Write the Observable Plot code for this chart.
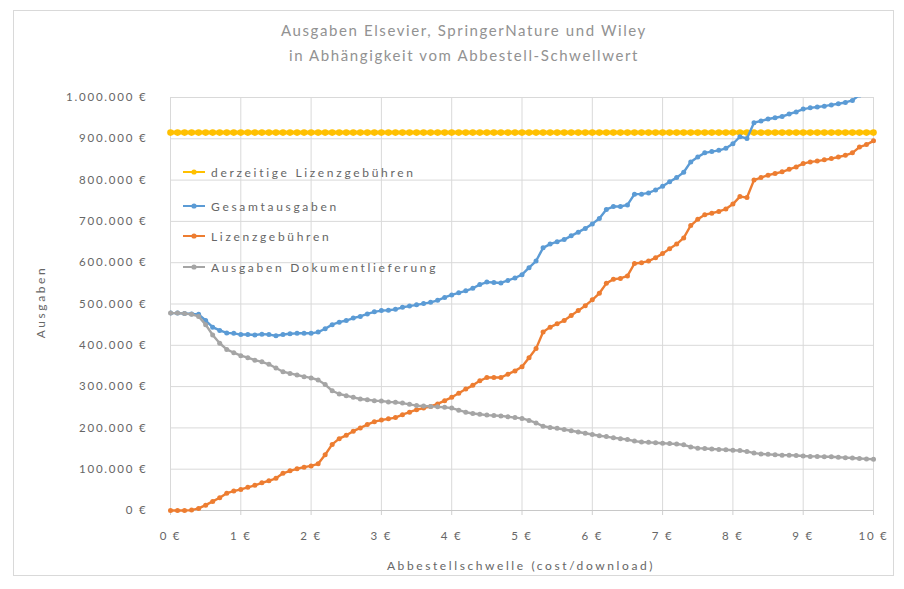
<!DOCTYPE html>
<html><head><meta charset="utf-8">
<script src="https://cdn.jsdelivr.net/npm/d3@7"></script>
<script src="https://cdn.jsdelivr.net/npm/@observablehq/plot@0.6"></script>
<style>
body{margin:0;background:#fff;}
#wrap{position:relative;width:904px;height:589px;font-family:Lato,sans-serif;overflow:hidden;}
#frame{position:absolute;left:13px;top:10px;width:881px;height:566px;border:1px solid #d9d9d9;box-sizing:border-box;}
.title{position:absolute;left:0;width:928px;text-align:center;color:#929292;font-size:15px;letter-spacing:1.6px;line-height:20px;}
.leg{position:absolute;left:182px;height:20px;display:flex;align-items:center;font-size:12px;color:#666;letter-spacing:2.7px;}
.leg svg{margin-right:5px;}
.axt{position:absolute;color:#666;font-size:12px;letter-spacing:2.6px;white-space:nowrap;}
#chart{position:absolute;left:0;top:0;}
</style></head>
<body>
<div id="wrap">
  <div id="frame"></div>
  <div id="chart"></div>
</div>
<script>
// Abbestellschwelle (€ cost/download)
const thresholds = [0,0.1,0.2,0.3,0.4,0.5,0.6,0.7,0.8,0.9,
  1,1.1,1.2,1.3,1.4,1.5,1.6,1.7,1.8,1.9,
  2,2.1,2.2,2.3,2.4,2.5,2.6,2.7,2.8,2.9,
  3,3.1,3.2,3.3,3.4,3.5,3.6,3.7,3.8,3.9,
  4,4.1,4.2,4.3,4.4,4.5,4.6,4.7,4.8,4.9,
  5,5.1,5.2,5.3,5.4,5.5,5.6,5.7,5.8,5.9,
  6,6.1,6.2,6.3,6.4,6.5,6.6,6.7,6.8,6.9,
  7,7.1,7.2,7.3,7.4,7.5,7.6,7.7,7.8,7.9,
  8,8.1,8.2,8.3,8.4,8.5,8.6,8.7,8.8,8.9,
  9,9.1,9.2,9.3,9.4,9.5,9.6,9.7,9.8,9.9,10];

// values in thousand €
const currentFees = 915;
const totalSpend = [478,478,477,476,475,460,444,436,430,429,
  426,426,425,427,426,423,426,428,429,429,
  429,432,440,450,456,460,466,470,476,481,
  484,485,487,492,495,498,501,504,509,516,
  522,527,532,538,547,553,552,551,557,563,
  571,588,604,636,645,651,656,665,674,683,
  694,707,729,736,736,740,766,766,769,776,
  785,796,806,819,844,856,866,869,872,877,
  888,905,901,939,943,948,951,954,960,965,
  972,975,977,979,982,985,988,993,1006,1011,1019];
const licenseFees = [0,0,0,1,5,13,22,31,42,47,
  51,56,61,67,72,78,90,96,101,105,
  108,113,135,160,174,182,192,200,208,215,
  219,222,225,232,238,244,248,252,258,266,
  274,284,294,303,314,322,322,322,330,338,
  348,370,392,432,444,452,460,472,484,496,
  510,526,550,560,562,568,598,600,604,612,
  622,634,645,660,690,705,716,720,724,730,
  742,760,758,800,806,812,816,820,826,832,
  840,844,846,849,852,856,860,866,880,886,895];
const docDelivery = [478,478,477,475,470,450,425,405,390,382,
  375,370,364,360,354,345,336,332,328,324,
  321,316,305,290,282,278,274,270,268,266,
  265,263,262,260,257,254,253,252,251,250,
  248,243,238,235,233,231,230,229,227,225,
  223,218,212,204,201,199,196,193,190,187,
  184,181,179,176,174,172,168,166,165,164,
  163,162,161,159,154,151,150,149,148,147,
  146,145,143,139,137,136,135,134,134,133,
  132,131,131,130,130,129,128,127,126,125,124];

const seriesNames = ["derzeitige Lizenzgebühren","Gesamtausgaben","Lizenzgebühren","Ausgaben Dokumentlieferung"];
const seriesColors = ["#FFC000","#5B9BD5","#ED7D31","#A5A5A5"];
const xTicks = [0,1,2,3,4,5,6,7,8,9,10];
const yTicks = [0,100000,200000,300000,400000,500000,600000,700000,800000,900000,1000000];
const titleLines = ["Ausgaben Elsevier, SpringerNature und Wiley","in Abhängigkeit vom Abbestell-Schwellwert"];
const xLabel = "Abbestellschwelle (cost/download)";
const yLabel = "Ausgaben";

const mk = arr => thresholds.map((t,i) => ({x:t, y:arr[i]*1000}));
const yellow = thresholds.map(t => ({x:t, y:currentFees*1000}));
const blue = mk(totalSpend), orange = mk(licenseFees), gray = mk(docDelivery);

const deFmt = d => d3.format(",")(d).replace(/,/g, ".") + " €";

const chart = Plot.plot({
  width: 904, height: 589,
  marginLeft: 170, marginRight: 31, marginTop: 97, marginBottom: 79,
  style: {fontFamily: "Lato, sans-serif", fontSize: "11.5px", color: "#666", background: "transparent", letterSpacing: "1.8px"},
  x: {domain: [0, 10]},
  y: {domain: [0, 1000000]},
  marks: [
    Plot.gridX(xTicks, {stroke: "#d9d9d9", strokeOpacity: 1}),
    Plot.gridY(yTicks, {stroke: "#d9d9d9", strokeOpacity: 1}),
    Plot.axisX(xTicks, {tickSize: 5, stroke: "#d0d0d0", tickPadding: 16, tickFormat: d => d + " €", label: null}),
    Plot.axisY(yTicks, {tickSize: 0, tickPadding: 23, tickFormat: deFmt, label: null}),
    Plot.ruleY([0], {stroke: "#c8c8c8", strokeWidth: 1.2}),
    Plot.line(yellow, {x: "x", y: "y", stroke: seriesColors[0], strokeWidth: 4}),
    Plot.dot(yellow, {x: "x", y: "y", fill: seriesColors[0], r: 3.3}),
    Plot.line(blue, {x: "x", y: "y", stroke: seriesColors[1], strokeWidth: 2.4, clip: true}),
    Plot.dot(blue, {x: "x", y: "y", fill: seriesColors[1], r: 2.5, clip: true}),
    Plot.line(orange, {x: "x", y: "y", stroke: seriesColors[2], strokeWidth: 2.4}),
    Plot.dot(orange, {x: "x", y: "y", fill: seriesColors[2], r: 2.5}),
    Plot.line(gray, {x: "x", y: "y", stroke: seriesColors[3], strokeWidth: 2.4}),
    Plot.dot(gray, {x: "x", y: "y", fill: seriesColors[3], r: 2.5})
  ]
});
document.getElementById("chart").appendChild(chart);

const wrap = document.getElementById("wrap");
titleLines.forEach((t, i) => {
  const d = document.createElement("div");
  d.className = "title";
  d.style.top = (20 + i * 25) + "px";
  d.textContent = t;
  wrap.appendChild(d);
});
const legTops = [162, 196, 226, 257];
seriesNames.forEach((n, i) => {
  const d = document.createElement("div");
  d.className = "leg";
  d.style.top = legTops[i] + "px";
  d.innerHTML = `<svg width="24" height="10"><line x1="1" y1="5" x2="23" y2="5" stroke="${seriesColors[i]}" stroke-width="2"/><circle cx="12" cy="5" r="2.6" fill="${seriesColors[i]}"/></svg>`;
  const s = document.createElement("span");
  s.textContent = n;
  d.appendChild(s);
  wrap.appendChild(d);
});
const xl = document.createElement("div");
xl.className = "axt";
xl.textContent = xLabel;
xl.style.left = "521px"; xl.style.top = "565px";
xl.style.transform = "translate(-50%,-50%)";
wrap.appendChild(xl);
const yl = document.createElement("div");
yl.className = "axt";
yl.textContent = yLabel;
yl.style.left = "40px"; yl.style.top = "302px";
yl.style.transform = "translate(-50%,-50%) rotate(-90deg)";
wrap.appendChild(yl);
</script>
</body></html>
